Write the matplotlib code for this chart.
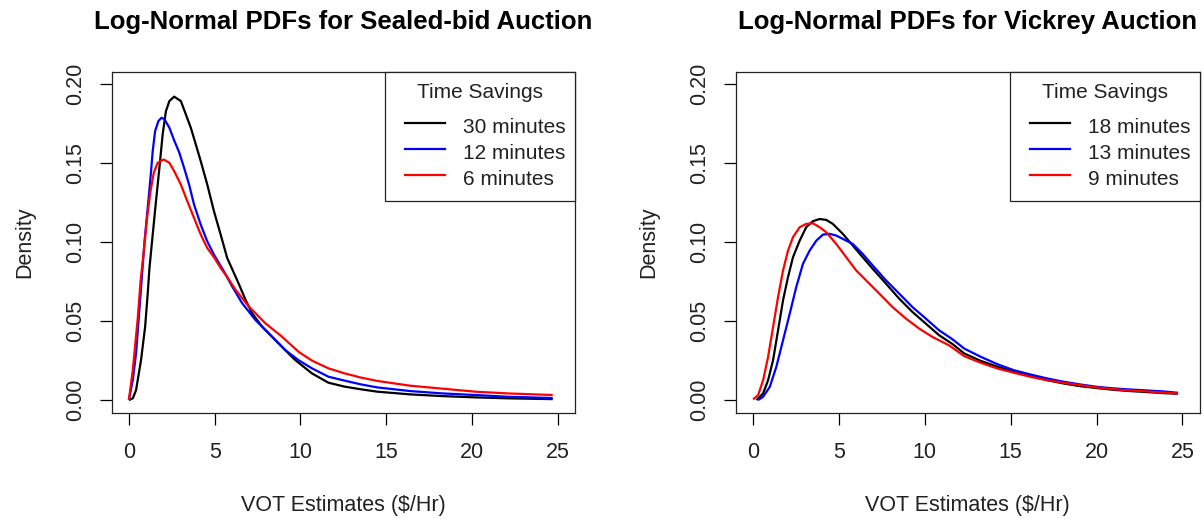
import matplotlib
matplotlib.use('Agg')
import matplotlib.pyplot as plt
from matplotlib.patches import Rectangle
from matplotlib.lines import Line2D

plt.rcParams['font.family'] = ['Liberation Sans', 'DejaVu Sans']

# ---------------- data ----------------
titles = ["Log-Normal PDFs for Sealed-bid Auction", "Log-Normal PDFs for Vickrey Auction"]
x_label = "VOT Estimates ($/Hr)"
y_label = "Density"
legend_title = "Time Savings"
x_ticks = [0, 5, 10, 15, 20, 25]
y_ticks = [0.00, 0.05, 0.10, 0.15, 0.20]
y_tick_labels = ["0.00", "0.05", "0.10", "0.15", "0.20"]
colors = ["black", "#0000FF", "#FF0000"]

labels_sealed = ["30 minutes", "12 minutes", "6 minutes"]
labels_vickrey = ["18 minutes", "13 minutes", "9 minutes"]

# Sealed-bid auction
sb30_x = [0.0, 0.23, 0.42, 0.71, 0.95, 1.10, 1.20, 1.39, 1.58, 1.78, 1.97, 2.16, 2.36, 2.64, 3.03,
          3.32, 3.61, 3.90, 4.19, 4.57, 4.96, 5.35, 5.73, 6.02, 6.41, 6.80, 7.18, 7.76, 8.53, 9.11,
          9.69, 10.67, 11.63, 12.58, 13.54, 14.49, 16.4, 18.3, 20.2, 22.1, 24.7]
sb30_y = [0.0, 0.0011, 0.0063, 0.0254, 0.0466, 0.0677, 0.0836, 0.1048, 0.1259, 0.1471, 0.1683,
          0.1830, 0.1894, 0.1922, 0.1894, 0.1810, 0.1725, 0.1620, 0.1513, 0.1365, 0.1196, 0.1048,
          0.0900, 0.0830, 0.0735, 0.0635, 0.0550, 0.0466, 0.0381, 0.0317, 0.0254, 0.0169, 0.0110,
          0.0085, 0.0068, 0.0053, 0.0036, 0.0025, 0.0017, 0.0011, 0.0006]

sb12_x = [0.0, 0.23, 0.42, 0.72, 0.91, 1.10, 1.26, 1.39, 1.53, 1.72, 1.90, 2.07, 2.36, 2.64, 2.93,
          3.22, 3.51, 3.80, 4.19, 4.57, 4.96, 5.54, 6.02, 6.60, 7.37, 8.34, 9.11, 9.90, 10.67, 11.63,
          12.58, 13.54, 14.49, 16.4, 18.3, 20.2, 22.1, 24.7]
sb12_y = [0.0, 0.0127, 0.0296, 0.0725, 0.1000, 0.1220, 0.1407, 0.1577, 0.1704, 0.1767, 0.1788,
          0.1780, 0.1725, 0.1645, 0.1570, 0.1471, 0.1365, 0.1238, 0.1111, 0.1005, 0.0921, 0.0815,
          0.0720, 0.0614, 0.0508, 0.0402, 0.0317, 0.0252, 0.0201, 0.0148, 0.0123, 0.0099, 0.0080,
          0.0057, 0.0042, 0.0032, 0.0021, 0.0013]

sb6_x = [0.0, 0.23, 0.52, 0.68, 0.87, 1.06, 1.26, 1.45, 1.68, 2.03, 2.36, 2.64, 3.03, 3.41, 3.80,
         4.19, 4.57, 4.96, 5.35, 5.73, 6.22, 6.99, 7.95, 8.92, 9.90, 10.67, 11.63, 12.58, 13.54,
         14.49, 16.4, 18.3, 20.2, 22.1, 24.7]
sb6_y = [0.0, 0.0190, 0.0520, 0.0751, 0.0942, 0.1153, 0.1323, 0.1439, 0.1503, 0.1524, 0.1503,
         0.1450, 0.1365, 0.1259, 0.1153, 0.1048, 0.0963, 0.0905, 0.0836, 0.0780, 0.0698, 0.0593,
         0.0487, 0.0402, 0.0305, 0.0250, 0.0201, 0.0169, 0.0142, 0.0121, 0.0091, 0.0072, 0.0053,
         0.0042, 0.0032]

# Vickrey auction
vk18_x = [0.2, 0.29, 0.58, 0.87, 1.16, 1.45, 1.74, 2.03, 2.32, 2.71, 3.09, 3.48, 3.87, 4.26, 4.64,
          5.22, 5.80, 6.38, 6.96, 7.74, 8.51, 9.28, 10.06, 10.83, 11.61, 12.30, 13.26, 14.23, 15.19,
          16.16, 17.12, 18.09, 19.05, 20.02, 20.98, 21.95, 22.92, 23.88, 24.75]
vk18_y = [0.0, 0.001, 0.0042, 0.0126, 0.0253, 0.0442, 0.0632, 0.0779, 0.0905, 0.101, 0.1095, 0.1133,
          0.1147, 0.1141, 0.1116, 0.1053, 0.0979, 0.0905, 0.0832, 0.0737, 0.0642, 0.0558, 0.0484,
          0.0411, 0.0355, 0.0295, 0.0248, 0.0211, 0.0179, 0.0152, 0.0126, 0.0105, 0.0088, 0.0076,
          0.0065, 0.0057, 0.0051, 0.0044, 0.0040]

vk13_x = [0.29, 0.58, 0.97, 1.35, 1.74, 2.13, 2.51, 2.90, 3.29, 3.68, 4.06, 4.45, 4.84, 5.42, 5.80,
          6.38, 6.96, 7.74, 8.51, 9.28, 10.06, 10.83, 11.61, 12.30, 13.26, 14.23, 15.19, 16.16,
          17.12, 18.09, 19.05, 20.02, 20.98, 21.95, 22.92, 23.88, 24.75]
vk13_y = [0.0, 0.0021, 0.0084, 0.0211, 0.0379, 0.0547, 0.0716, 0.0863, 0.0947, 0.101, 0.1048, 0.1053,
          0.1042, 0.101, 0.0989, 0.0926, 0.0853, 0.0758, 0.0674, 0.0589, 0.0516, 0.0442, 0.0385,
          0.0326, 0.0274, 0.0227, 0.0189, 0.0162, 0.0137, 0.0116, 0.0099, 0.0084, 0.0074, 0.0067,
          0.0061, 0.0055, 0.0046]

vk9_x = [0.0, 0.29, 0.58, 0.87, 1.16, 1.45, 1.74, 2.03, 2.32, 2.71, 3.09, 3.48, 3.87, 4.26, 4.84,
         5.42, 6.00, 6.58, 7.35, 8.12, 8.90, 9.67, 10.44, 11.41, 12.30, 13.26, 14.23, 15.19, 16.16,
         17.12, 18.09, 19.05, 20.02, 20.98, 21.95, 22.92, 23.88, 24.75]
vk9_y = [0.0004, 0.0032, 0.0126, 0.0274, 0.0463, 0.0653, 0.0821, 0.0947, 0.1032, 0.1095, 0.1116,
         0.112, 0.1095, 0.1063, 0.0989, 0.0905, 0.0821, 0.0758, 0.0674, 0.0589, 0.0516, 0.0453,
         0.0400, 0.0347, 0.0278, 0.0236, 0.0200, 0.0173, 0.0147, 0.0126, 0.0109, 0.0095, 0.0080,
         0.0069, 0.0061, 0.0055, 0.0048, 0.0042]

panels = [
    (titles[0], labels_sealed, [(sb30_x, sb30_y), (sb12_x, sb12_y), (sb6_x, sb6_y)]),
    (titles[1], labels_vickrey, [(vk18_x, vk18_y), (vk13_x, vk13_y), (vk9_x, vk9_y)]),
]

# ---------------- layout ----------------
W, H = 1204, 519
fig = plt.figure(figsize=(W / 100, H / 100), dpi=100)
fig.patch.set_facecolor('white')

boxes = [(111.7, 71.7, 575.0, 412.7), (736.0, 71.7, 1199.5, 412.7)]

for (title, labels, series), (l, t, r, b) in zip(panels, boxes):
    ax = fig.add_axes([l / W, 1 - b / H, (r - l) / W, (b - t) / H])
    for (xs, ys), c in zip(series, colors):
        ax.plot(xs, ys, color=c, lw=1.6, solid_joinstyle='round', solid_capstyle='butt')
    ax.set_xlim(-1, 26)
    ax.set_ylim(-0.008, 0.208)
    ax.set_xticks(x_ticks)
    ax.set_yticks(y_ticks)
    ax.set_yticklabels(y_tick_labels)
    ax.tick_params(length=8.4, width=0.9, labelsize=15.5, color='black', labelcolor='#222222')
    ax.tick_params(axis='x', pad=13)
    ax.tick_params(axis='y', pad=10, labelrotation=90)
    plt.setp(ax.get_yticklabels(), va='center')
    for sp in ax.spines.values():
        sp.set_linewidth(0.9)
        sp.set_color('#222222')

    ax.set_xlabel(x_label, fontsize=15.5, color='#222222', va='center')
    ax.xaxis.set_label_coords(0.5, (b - 505) / (b - t))
    ax.set_ylabel(y_label, fontsize=15.5, color='#222222', va='center')
    ax.yaxis.set_label_coords(-87 / (r - l), 0.5)
    ax.text(0.5, (b - 22) / (b - t), title, transform=ax.transAxes, ha='center', va='center',
            fontsize=18.5, fontweight='bold', color='black')

    # legend (R style, top-right corner)
    def fx(px):
        return (px - l) / (r - l)

    def fy(py):
        return (b - py) / (b - t)

    lg_l, lg_t, lg_r, lg_b = r - 190, t + 0.6, r, t + 129
    ax.add_patch(Rectangle((fx(lg_l), fy(lg_b)), fx(lg_r) - fx(lg_l), fy(lg_t) - fy(lg_b),
                           transform=ax.transAxes, facecolor='white', edgecolor='#222222',
                           lw=0.9, clip_on=False, zorder=5))
    ax.text(fx((lg_l + lg_r) / 2), fy(t + 26), legend_title, transform=ax.transAxes,
            ha='center', va='baseline', fontsize=15, color='#222222', zorder=6)
    for i, (lab, c) in enumerate(zip(labels, colors)):
        ly = t + 51.6 + 25.9 * i
        ax.add_line(Line2D([fx(r - 170), fx(r - 130)], [fy(ly), fy(ly)], transform=ax.transAxes,
                           color=c, lw=1.6, clip_on=False, zorder=6))
        ax.text(fx(r - 112), fy(ly + 9.8), lab, transform=ax.transAxes, ha='left', va='baseline',
                fontsize=15, color='#222222', zorder=6)

fig.savefig('out.png', dpi=100, facecolor='white')
